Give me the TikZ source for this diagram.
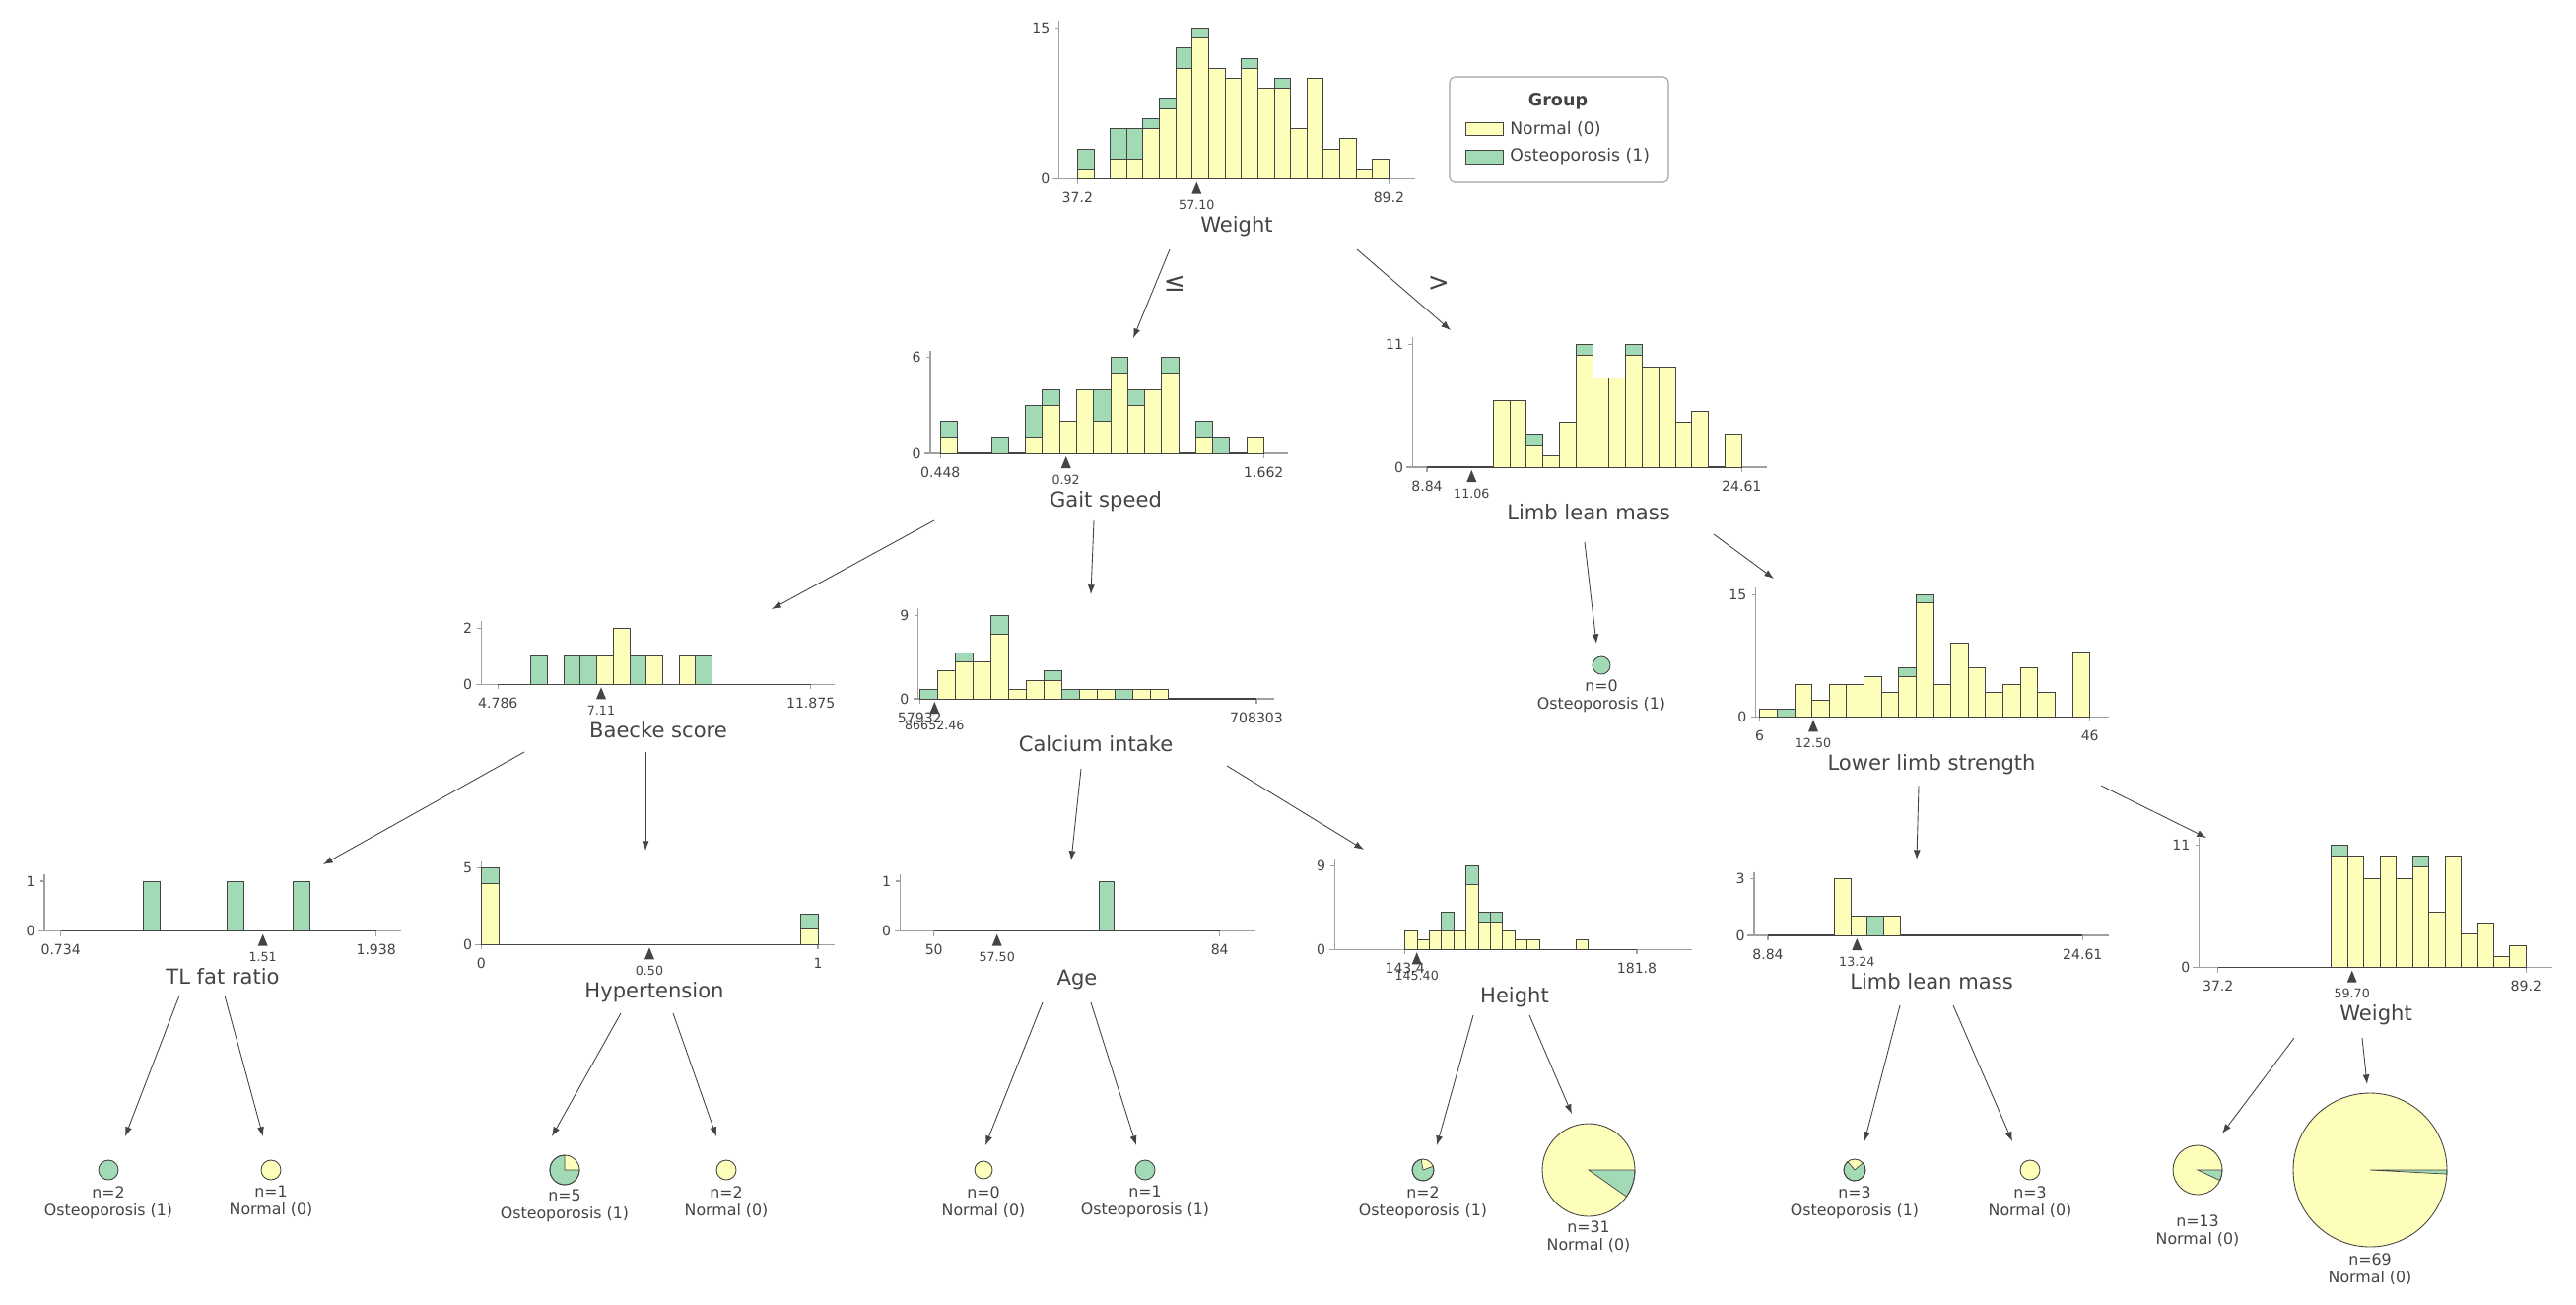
\documentclass[tikz,border=0pt]{standalone}
\usepackage{fontspec}
\setmainfont{DejaVu Sans}
\usetikzlibrary{arrows.meta}

\definecolor{normalc}{HTML}{FEFEBB}
\definecolor{osteoc}{HTML}{A1DAB4}
\definecolor{ink}{HTML}{444443}
\definecolor{axisc}{HTML}{A0A0A0}

\tikzset{
 nbar/.style
  = {draw=ink, fill=normalc, line width=0.5pt},
 obar/.style
  = {draw=ink, fill=osteoc, line width=0.5pt},
 spine/.style
  = {draw=axisc, line width=0.6pt},
 zero/.style
  = {draw=ink, line width=0.6pt},
 ticklab/.style
  = {text=ink, inner sep=0pt, font=\fontsize{8}{9}\selectfont},
 splitlab/.style
  = {text=ink, inner sep=0pt, font=\fontsize{7.2}{9}\selectfont},
 featlab/.style
  = {text=ink, inner sep=0pt, font=\fontsize{12}{14}\selectfont},
 leaflab/.style
  = {text=ink, inner sep=0pt, align=center, font=\fontsize{9}{10.2}\selectfont},
 edgelab/.style
  = {text=ink, inner sep=0pt, font=\fontsize{15}{15}\selectfont},
 arrow/.style
  = {draw=ink, line width=0.5pt, -{Latex[length=5.5pt,width=4pt]}},
}

% frame: spine x, baseline, top y, top count, axis from, axis to
\newcommand{\histframe}[6]{%
  \draw[spine] (#1,#3-7) -- (#1,#2);
  \draw[spine] (#5,#2) -- (#6,#2);
  \draw[spine] (#1,#3) -- ++(-4,0);
  \draw[spine] (#1,#2) -- ++(-4,0);
  \node[ticklab, anchor=east] at (#1-9,#3) {#4};
  \node[ticklab, anchor=east] at (#1-9,#2) {0};
}
% ticks: baseline, first x, first label, last x, last label
\newcommand{\histticks}[5]{%
  \draw[spine] (#2,#1) -- ++(0,5);
  \draw[spine] (#4,#1) -- ++(0,5);
  \draw[zero] (#2,#1) -- (#4,#1);
  \node[ticklab, anchor=base] at (#2,#1+24) {#3};
  \node[ticklab, anchor=base] at (#4,#1+24) {#5};
}
% split: x, baseline, value
\newcommand{\histsplit}[3]{%
  \fill[ink] (#1,#2+3) -- (#1-5,#2+15) -- (#1+5,#2+15) -- cycle;
  \node[splitlab, anchor=base] at (#1,#2+31) {#3};
}
% bars: first x, baseline, bar width, px per count, list normal/osteo
\newcommand{\histbars}[5]{%
  \foreach \nrm/\ost [count=\k] in {#5}{%
    \pgfmathsetmacro{\bxa}{#1+(\k-1)*#3}%
    \pgfmathsetmacro{\bxb}{#1+\k*#3}%
    \pgfmathsetmacro{\bya}{#2-\nrm*#4}%
    \pgfmathsetmacro{\byb}{#2-(\nrm+\ost)*#4}%
    \ifnum\nrm>0 \draw[nbar] (\bxa,#2) rectangle (\bxb,\bya);\fi
    \ifnum\ost>0 \draw[obar] (\bxa,\bya) rectangle (\bxb,\byb);\fi
  }}
% pie: centre, radius, green wedge from, to (angles as seen)
\newcommand{\leafpie}[4]{%
  \fill[normalc] (#1) circle[radius=#2];
  \filldraw[fill=osteoc, draw=ink, line width=0.4pt] (#1) -- ++({-(#3)}:#2)
    arc[start angle={-(#3)}, end angle={-(#4)}, radius=#2] -- cycle;
  \draw[ink, line width=0.5pt] (#1) circle[radius=#2];
}

\begin{document}
\begin{tikzpicture}[x=0.02cm, y=-0.02cm]
\useasboundingbox (0,0) rectangle (2614,1323);

% Root: Weight
\histframe{1074.6}{181.7}{28.3}{15}{1067.9}{1436.2}
\histticks{181.7}{1093.3}{37.2}{1409.4}{89.2}
\histbars{1093.3}{181.7}{16.637}{10.227}{1/2,0/0,2/3,2/3,5/1,7/1,11/2,14/1,11/0,10/0,11/1,9/0,9/1,5/0,10/0,3/0,4/0,1/0,2/0}
\histsplit{1214.3}{181.7}{57.10}
\node[featlab, anchor=base] (weight) at (1255,235) {Weight};

% Legend
\draw[axisc, rounded corners=3pt, line width=0.6pt] (1471,78) rectangle (1693,185);
\node[text=ink, font=\bfseries\fontsize{10}{12}\selectfont] (group) at (1581,103) {Group};
\draw[nbar] (1487,124) rectangle (1525,137);
\draw[obar] (1487,152) rectangle (1525,166);
\node[text=ink, anchor=west, inner sep=0pt, font=\fontsize{9.8}{11}\selectfont] (key-normal) at (1532,131) {Normal (0)};
\node[text=ink, anchor=west, inner sep=0pt, font=\fontsize{9.8}{11}\selectfont] (key-osteo) at (1532,159) {Osteoporosis (1)};

% Gait speed
\histframe{944}{460}{362.7}{6}{938}{1306.7}
\histticks{460}{954.3}{0.448}{1282.3}{1.662}
\histbars{954.3}{460}{17.263}{16.22}{1/1,0/0,0/0,0/1,0/0,1/2,3/1,2/0,4/0,2/2,5/1,3/1,4/0,5/1,0/0,1/1,0/1,0/0,1/0}
\histsplit{1081.7}{460}{0.92}
\node[featlab, anchor=base] (gait) at (1122,514) {Gait speed};

% Limb lean mass
\histframe{1433.3}{474}{349.3}{11}{1426.7}{1792.7}
\histticks{474}{1448}{8.84}{1767.3}{24.61}
\histbars{1448}{474}{16.805}{11.336}{0/0,0/0,0/0,0/0,6/0,6/0,2/1,1/0,4/0,10/1,8/0,8/0,10/1,9/0,9/0,4/0,5/0,0/0,3/0}
\histsplit{1493.3}{474}{11.06}
\node[featlab, anchor=base] (limb) at (1612,527) {Limb lean mass};

% Baecke score
\histframe{488.3}{694.3}{637.3}{2}{483.3}{847.3}
\histticks{694.3}{505.3}{4.786}{822.7}{11.875}
\histbars{505.3}{694.3}{16.705}{28.5}{0/0,0/0,0/1,0/0,0/1,0/1,1/0,2/0,0/1,1/0,0/0,1/0,0/1}
\histsplit{610}{694.3}{7.11}
\node[featlab, anchor=base] (baecke) at (668,748) {Baecke score};

% Calcium intake
\histframe{931.7}{709}{624.3}{9}{926.7}{1293.3}
\histticks{709}{933.3}{57932}{1275}{708303}
\histbars{933.3}{709}{17.984}{9.411}{0/1,3/0,4/1,4/0,7/2,1/0,2/0,2/1,0/1,1/0,1/0,0/1,1/0,1/0}
\histsplit{948.3}{709}{86652.46}
\node[featlab, anchor=base] (calcium) at (1112,762) {Calcium intake};

% Lower limb strength
\histframe{1781.7}{727.3}{603.3}{15}{1776.7}{2140}
\histticks{727.3}{1785.7}{6}{2120.7}{46}
\histbars{1785.7}{727.3}{17.632}{8.267}{1/0,0/1,4/0,2/0,4/0,4/0,5/0,3/0,5/1,14/1,4/0,9/0,6/0,3/0,4/0,6/0,3/0,0/0,8/0}
\histsplit{1840}{727.3}{12.50}
\node[featlab, anchor=base] (strength) at (1960,781) {Lower limb strength};

% TL fat ratio
\histframe{45}{944.7}{894}{1}{39.3}{407.3}
\histticks{944.7}{61.7}{0.734}{381.7}{1.938}
\histbars{61.7}{944.7}{16.842}{50.7}{0/0,0/0,0/0,0/0,0/0,0/1,0/0,0/0,0/0,0/0,0/1,0/0,0/0,0/0,0/1}
\histsplit{266.7}{944.7}{1.51}
\node[featlab, anchor=base] (tlfat) at (226,998) {TL fat ratio};

% Hypertension
\histframe{488.3}{958.3}{880.7}{5}{481.7}{847.3}
\histticks{958.3}{488.3}{0}{830}{1}
\histbars{488.3}{958.3}{17.984}{15.52}{4/1,0/0,0/0,0/0,0/0,0/0,0/0,0/0,0/0,0/0,0/0,0/0,0/0,0/0,0/0,0/0,0/0,0/0,1/1}
\histsplit{659}{958.3}{0.50}
\node[featlab, anchor=base] (hyper) at (664,1012) {Hypertension};

% Age
\histframe{913.3}{944.7}{894}{1}{908.3}{1274}
\histticks{944.7}{947.7}{50}{1237.7}{84}
\histbars{947.7}{944.7}{15.263}{50.7}{0/0,0/0,0/0,0/0,0/0,0/0,0/0,0/0,0/0,0/0,0/0,0/1}
\histsplit{1011.7}{944.7}{57.50}
\node[featlab, anchor=base] (age) at (1093,999) {Age};

% Height
\histframe{1354.3}{963.3}{878.3}{9}{1349.3}{1716.7}
\histticks{963.3}{1425.7}{143.4}{1661}{181.8}
\histbars{1425.7}{963.3}{12.384}{9.444}{2/0,1/0,2/0,2/2,2/0,7/2,3/1,3/1,2/0,1/0,1/0,0/0,0/0,0/0,1/0}
\histsplit{1437.7}{963.3}{145.40}
\node[featlab, anchor=base] (height) at (1537,1017) {Height};

% Limb lean mass, second split
\histframe{1780}{949}{891.7}{3}{1773.3}{2140}
\histticks{949}{1794}{8.84}{2113.3}{24.61}
\histbars{1794}{949}{16.805}{19.1}{0/0,0/0,0/0,0/0,3/0,1/0,0/1,1/0}
\histsplit{1884.3}{949}{13.24}
\node[featlab, anchor=base] (limb2) at (1960,1003) {Limb lean mass};

% Weight, second split
\histframe{2231.7}{981.7}{857.3}{11}{2225}{2590}
\histticks{981.7}{2250.7}{37.2}{2563.3}{89.2}
\histbars{2250.7}{981.7}{16.453}{11.309}{0/0,0/0,0/0,0/0,0/0,0/0,0/0,10/1,10/0,8/0,10/0,8/0,9/1,5/0,10/0,3/0,4/0,1/0,2/0}
\histsplit{2386.7}{981.7}{59.70}
\node[featlab, anchor=base] (weight2) at (2411,1035) {Weight};

% Leaves
\coordinate (lf0) at (1625,675);
\draw[obar] (lf0) circle[radius=9];
\node[leaflab, anchor=north] (lf0-lab) at (1625,689) {n=0\\Osteoporosis (1)};

\coordinate (lf1) at (110,1187);
\draw[obar] (lf1) circle[radius=10];
\node[leaflab, anchor=north] (lf1-lab) at (110,1203) {n=2\\Osteoporosis (1)};
\coordinate (lf2) at (275,1187);
\draw[nbar] (lf2) circle[radius=10];
\node[leaflab, anchor=north] (lf2-lab) at (275,1203) {n=1\\Normal (0)};
\coordinate (lf3) at (573,1187);
\leafpie{lf3}{15}{90}{360}
\node[leaflab, anchor=north] (lf3-lab) at (573,1207) {n=5\\Osteoporosis (1)};
\coordinate (lf4) at (737,1187);
\draw[nbar] (lf4) circle[radius=10];
\node[leaflab, anchor=north] (lf4-lab) at (737,1203) {n=2\\Normal (0)};
\coordinate (lf5) at (998,1187);
\draw[nbar] (lf5) circle[radius=9];
\node[leaflab, anchor=north] (lf5-lab) at (998,1203) {n=0\\Normal (0)};
\coordinate (lf6) at (1162,1187);
\draw[obar] (lf6) circle[radius=10];
\node[leaflab, anchor=north] (lf6-lab) at (1162,1203) {n=1\\Osteoporosis (1)};
\coordinate (lf7) at (1444,1187);
\leafpie{lf7}{11}{100}{380}
\node[leaflab, anchor=north] (lf7-lab) at (1444,1203) {n=2\\Osteoporosis (1)};
\coordinate (lf8) at (1612,1187);
\leafpie{lf8}{47}{-35}{0}
\node[leaflab, anchor=north] (lf8-lab) at (1612,1238) {n=31\\Normal (0)};
\coordinate (lf9) at (1882,1187);
\leafpie{lf9}{11}{130}{400}
\node[leaflab, anchor=north] (lf9-lab) at (1882,1203) {n=3\\Osteoporosis (1)};
\coordinate (lf10) at (2060,1187);
\draw[nbar] (lf10) circle[radius=10];
\node[leaflab, anchor=north] (lf10-lab) at (2060,1203) {n=3\\Normal (0)};
\coordinate (lf11) at (2230,1187);
\leafpie{lf11}{25}{-25}{0}
\node[leaflab, anchor=north] (lf11-lab) at (2230,1232) {n=13\\Normal (0)};
\coordinate (lf12) at (2405,1187);
\leafpie{lf12}{78}{-3}{0}
\node[leaflab, anchor=north] (lf12-lab) at (2405,1271) {n=69\\Normal (0)};

% Edge ends
\coordinate (weight-l) at (1187,253);  \coordinate (gait-in) at (1150,343);
\coordinate (weight-r) at (1377,253);  \coordinate (limb-in) at (1472,335);
\coordinate (gait-l) at (948,528);     \coordinate (baecke-in) at (783,618);
\coordinate (gait-r) at (1110,528);    \coordinate (calcium-in) at (1107,603);
\coordinate (limb-l) at (1608,550);    \coordinate (lf0-in) at (1620,653);
\coordinate (limb-r) at (1739,542);    \coordinate (strength-in) at (1800,587);
\coordinate (baecke-l) at (532,763);   \coordinate (tlfat-in) at (328,877);
\coordinate (baecke-r) at (655,763);   \coordinate (hyper-in) at (655,863);
\coordinate (calcium-l) at (1097,780); \coordinate (age-in) at (1087,873);
\coordinate (calcium-r) at (1245,777); \coordinate (height-in) at (1384,862);
\coordinate (strength-l) at (1947,797); \coordinate (limb2-in) at (1945,872);
\coordinate (strength-r) at (2132,797); \coordinate (weight2-in) at (2239,850);
\coordinate (tlfat-l) at (182,1010);   \coordinate (lf1-in) at (127,1153);
\coordinate (tlfat-r) at (228,1010);   \coordinate (lf2-in) at (267,1153);
\coordinate (hyper-l) at (630,1028);   \coordinate (lf3-in) at (560,1153);
\coordinate (hyper-r) at (683,1028);   \coordinate (lf4-in) at (727,1153);
\coordinate (age-l) at (1058,1017);    \coordinate (lf5-in) at (1000,1162);
\coordinate (age-r) at (1107,1017);    \coordinate (lf6-in) at (1153,1162);
\coordinate (height-l) at (1495,1030); \coordinate (lf7-in) at (1458,1162);
\coordinate (height-r) at (1552,1030); \coordinate (lf8-in) at (1595,1130);
\coordinate (limb2-l) at (1928,1020);  \coordinate (lf9-in) at (1892,1158);
\coordinate (limb2-r) at (1982,1020);  \coordinate (lf10-in) at (2042,1158);
\coordinate (weight2-l) at (2328,1053); \coordinate (lf11-in) at (2255,1150);
\coordinate (weight2-r) at (2397,1053); \coordinate (lf12-in) at (2402,1100);

% Edges
\foreach \a/\b in {weight-l/gait-in, weight-r/limb-in, gait-l/baecke-in, gait-r/calcium-in,
    limb-l/lf0-in, limb-r/strength-in, baecke-l/tlfat-in, baecke-r/hyper-in,
    calcium-l/age-in, calcium-r/height-in, strength-l/limb2-in, strength-r/weight2-in,
    tlfat-l/lf1-in, tlfat-r/lf2-in, hyper-l/lf3-in, hyper-r/lf4-in,
    age-l/lf5-in, age-r/lf6-in, height-l/lf7-in, height-r/lf8-in,
    limb2-l/lf9-in, limb2-r/lf10-in, weight2-l/lf11-in, weight2-r/lf12-in}
  \draw[arrow] (\a) -- (\b);

% Edge labels
\node[edgelab] (le) at (1192,288) {≤};
\node[edgelab] (gt) at (1460,288) {>};

\end{tikzpicture}
\end{document}
